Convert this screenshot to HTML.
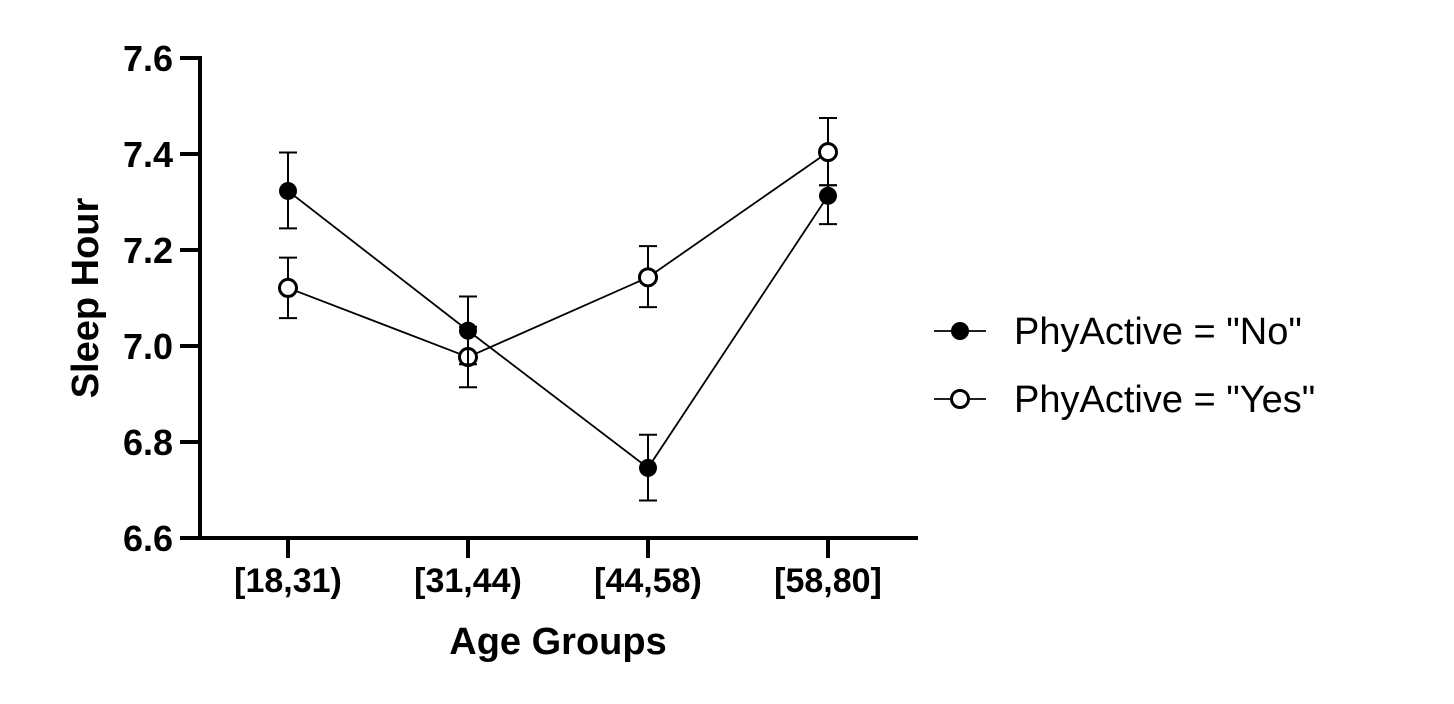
<!DOCTYPE html>
<html><head><meta charset="utf-8"><style>
html,body{margin:0;padding:0;background:#fff;}
svg{display:block;font-family:"Liberation Sans",Arial,sans-serif;}
</style></head><body>
<svg id="chart" width="1454" height="704" viewBox="0 0 1454 704"></svg>
<script>
const categories = ["[18,31)", "[31,44)", "[44,58)", "[58,80]"];
const noMean = [7.323, 7.032, 6.746, 7.313];
const noLow = [7.245, 6.962, 6.678, 7.254];
const noHigh = [7.403, 7.103, 6.815, 7.335];
const yesMean = [7.121, 6.977, 7.143, 7.404];
const yesLow = [7.058, 6.914, 7.081, 7.335];
const yesHigh = [7.184, 7.040, 7.208, 7.475];
const yTicks = [6.6, 6.8, 7.0, 7.2, 7.4, 7.6];
const yTickLabels = ["6.6", "6.8", "7.0", "7.2", "7.4", "7.6"];

const NS = "http://www.w3.org/2000/svg";
const svg = document.getElementById("chart");
const x0 = 200, x1 = 918, yTop = 58, yBot = 538;
const yMin = 6.6, yMax = 7.6;
const yScale = v => yBot - (v - yMin) / (yMax - yMin) * (yBot - yTop);
const xScale = i => 288 + i * 180;
function mk(tag, attrs, parent) {
  const e = document.createElementNS(NS, tag);
  for (const k in attrs) e.setAttribute(k, attrs[k]);
  (parent || svg).appendChild(e);
  return e;
}
const axes = mk("g", {});


mk("line", {x1: x0, y1: yTop - 2, x2: x0, y2: yBot + 2, stroke: "#000", "stroke-width": 4}, axes);
mk("line", {x1: x0 - 2, y1: yBot, x2: x1, y2: yBot, stroke: "#000", "stroke-width": 4}, axes);
yTicks.forEach((t, i) => {
  const y = yScale(t);
  mk("line", {x1: x0 - 20, y1: y, x2: x0, y2: y, stroke: "#000", "stroke-width": 4}, axes);
  const tx = mk("text", {x: 173, y: y + 13, "text-anchor": "end", "font-size": 36, "font-weight": "bold"}, axes);
  
  
  tx.textContent = yTickLabels[i];
});
categories.forEach((c, i) => {
  const x = xScale(i);
  mk("line", {x1: x, y1: yBot, x2: x, y2: yBot + 20, stroke: "#000", "stroke-width": 4}, axes);
  const tx = mk("text", {x: x, y: 592, "text-anchor": "middle", "font-size": 34, "font-weight": "bold"}, axes);
  
  
  tx.textContent = c;
});
const xt = mk("text", {x: 558, y: 654, "text-anchor": "middle", "font-size": 38, "font-weight": "bold"});


xt.textContent = "Age Groups";
const yt = mk("text", {x: 0, y: 0, "text-anchor": "middle", "font-size": 38, "font-weight": "bold", transform: "translate(98,298) rotate(-90)"});


yt.textContent = "Sleep Hour";

function series(mean, low, high, filled, name) {
  const g = mk("g", {});
  
  
  mk("polyline", {points: mean.map((v, i) => xScale(i) + "," + yScale(v)).join(" "), fill: "none", stroke: "#000", "stroke-width": 1.8}, g);
  mean.forEach((v, i) => {
    const x = xScale(i);
    const eb = mk("path", {d: `M${x},${yScale(low[i])}V${yScale(high[i])}M${x-9},${yScale(low[i])}H${x+9}M${x-9},${yScale(high[i])}H${x+9}`, stroke: "#000", "stroke-width": 2, fill: "none"}, g);
    
    
    const c = mk("circle", {cx: x, cy: yScale(v), r: filled ? 9 : 8.5, fill: filled ? "#000" : "#fff", stroke: "#000", "stroke-width": filled ? 0 : 3}, g);
    
    
  });
}
series(yesMean, yesLow, yesHigh, false, "series-yes");
series(noMean, noLow, noHigh, true, "series-no");

const leg = mk("g", {});


[["PhyActive = \"No\"", true, 331], ["PhyActive = \"Yes\"", false, 399]].forEach(([label, filled, y]) => {
  const e = mk("g", {}, leg);
  
  
  mk("line", {x1: 934, y1: y, x2: 986, y2: y, stroke: "#000", "stroke-width": 1.8}, e);
  mk("circle", {cx: 960, cy: y, r: filled ? 9 : 8.5, fill: filled ? "#000" : "#fff", stroke: "#000", "stroke-width": filled ? 0 : 3}, e);
  const t = mk("text", {x: 1014, y: y + 13, "font-size": 38}, e);
  t.textContent = label;
});
</script>
</body></html>
